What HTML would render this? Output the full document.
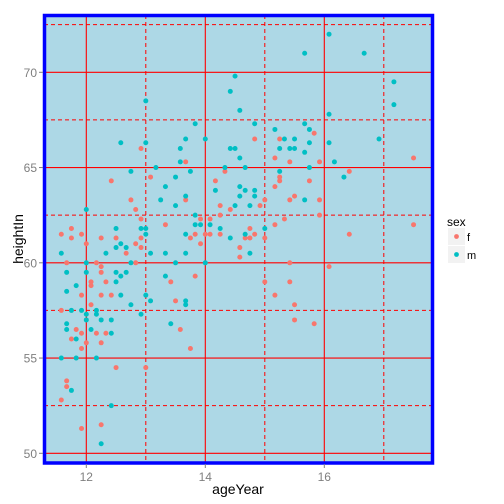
<!DOCTYPE html>
<html><head><meta charset="utf-8"><style>
html,body{margin:0;padding:0;background:#fff;}
svg{display:block;font-family:"Liberation Sans",Arial,sans-serif;}
</style></head><body>
<svg id="chart" width="504" height="504" viewBox="0 0 504 504">
<defs><clipPath id="clip"><rect x="44.5" y="15.5" width="388" height="447.5"/></clipPath></defs>
<rect x="44.5" y="15.5" width="388" height="447.5" fill="#ADD8E6"/>
<g id="grid" clip-path="url(#clip)"></g>
<g id="pts" clip-path="url(#clip)"></g>
<rect x="44.5" y="15.5" width="388" height="447.5" fill="none" stroke="#0000FF" stroke-width="3.5"/>
<g id="axes"></g>
<text x="238" y="494" font-size="14" text-anchor="middle" fill="#000">ageYear</text>
<text transform="translate(23,239) rotate(-90)" font-size="14" text-anchor="middle" fill="#000">heightIn</text>
<g>
<text x="447" y="226" font-size="12" fill="#000">sex</text>
<g>
<rect x="448" y="228" width="17" height="17" fill="#F2F2F2"/>
<circle cx="456.5" cy="236.5" r="2.4" fill="#F8766D"/>
<text x="467" y="241" font-size="11" fill="#000">f</text></g>
<g>
<rect x="448" y="246" width="17" height="17" fill="#F2F2F2"/>
<circle cx="456.5" cy="254.5" r="2.4" fill="#00BFC4"/>
<text x="467" y="259" font-size="11" fill="#000">m</text></g>
</g>
</svg>
<script>
const xTicks=[12,14,16];
const xMinor=[11,13,15,17];
const yTicks=[50,55,60,65,70];
const yMinor=[52.5,57.5,62.5,67.5,72.5];
const female=[[12.42,64.3],[12.75,63.3],[12.83,62.8],[12.92,62.3],[13.33,62.0],[11.75,61.8],[11.58,61.5],[11.92,61.5],[11.75,61.3],[12.25,61.3],[12.5,61.3],[12.92,61.3],[12.0,61.0],[12.83,61.0],[12.92,60.8],[12.67,60.5],[11.67,60.0],[12.17,60.0],[12.83,60.0],[12.25,59.8],[12.25,59.5],[12.08,59.0],[12.33,59.0],[13.42,59.0],[12.08,58.8],[11.92,58.3],[12.25,58.3],[12.42,58.3],[13.5,58.0],[12.08,57.8],[11.58,57.5],[11.83,56.5],[13.58,56.5],[11.92,56.3],[12.17,56.3],[12.33,56.3],[11.75,56.0],[12.0,55.8],[12.25,55.8],[11.92,55.5],[12.5,54.5],[13.0,54.5],[11.67,53.8],[11.67,53.5],[11.58,52.8],[11.92,51.3],[12.25,51.5],[12.92,66.0],[13.08,64.5],[14.83,66.5],[15.25,66.5],[15.83,66.8],[15.92,65.3],[17.5,65.5],[15.17,65.5],[13.67,65.3],[15.42,65.3],[14.33,64.8],[15.25,64.5],[15.25,64.3],[14.17,64.3],[15.75,64.3],[15.17,64.0],[13.67,63.3],[15.0,63.3],[15.5,63.5],[15.42,63.3],[14.25,63.0],[14.92,63.0],[14.42,62.8],[14.25,62.5],[13.92,62.3],[14.08,62.3],[15.33,62.3],[15.17,62.0],[14.75,61.8],[13.83,61.5],[14.0,61.5],[14.08,61.5],[14.25,61.5],[14.83,61.5],[13.75,61.3],[14.67,61.3],[14.75,61.3],[15.0,61.3],[13.92,61.0],[14.58,60.8],[14.58,60.3],[15.42,60.0],[13.83,59.3],[15.0,59.0],[15.42,59.0],[15.17,58.3],[15.5,57.8],[15.5,57.0],[13.75,55.5],[16.42,64.8],[15.92,63.3],[15.92,62.5],[17.5,62.0],[16.42,61.5],[16.08,59.8],[15.83,56.8]];
const male=[[13.33,64.0],[13.25,63.3],[13.5,63.0],[12.0,62.8],[12.5,61.8],[12.92,61.8],[13.0,61.8],[13.0,61.5],[12.58,61.0],[12.5,60.8],[12.67,60.8],[11.58,60.5],[12.33,60.5],[13.08,60.5],[13.33,60.5],[12.0,60.0],[12.75,60.0],[13.5,60.0],[11.67,59.5],[12.0,59.5],[12.5,59.5],[12.67,59.5],[12.58,59.3],[13.33,59.3],[12.5,59.0],[11.67,58.5],[11.83,58.8],[12.58,58.3],[13.0,58.3],[13.08,58.0],[12.75,57.8],[11.75,57.5],[11.92,57.5],[12.17,57.5],[12.0,57.3],[12.17,57.3],[12.92,57.3],[12.0,57.0],[12.25,57.0],[12.42,57.0],[11.67,56.8],[13.42,56.8],[11.67,56.5],[12.08,56.5],[12.42,56.3],[11.83,56.0],[11.58,55.0],[11.83,55.0],[12.17,55.0],[11.75,53.3],[12.42,52.5],[12.25,50.5],[13.0,68.5],[12.58,66.3],[13.0,66.3],[13.58,66.0],[13.58,65.3],[12.75,64.8],[13.17,65.0],[13.5,64.5],[15.67,71.0],[14.5,69.8],[14.42,69.0],[14.58,68.0],[13.83,67.3],[14.83,67.3],[15.67,67.3],[15.17,67.0],[15.75,67.0],[13.67,66.5],[14.0,66.5],[15.33,66.5],[15.5,66.5],[15.75,66.3],[16.08,72.0],[16.67,71.0],[17.17,69.5],[17.17,68.3],[16.08,67.8],[16.08,66.3],[16.92,66.5],[16.17,65.3],[14.42,66.0],[14.5,66.0],[15.25,66.0],[15.42,66.0],[15.5,66.0],[15.67,65.8],[14.58,65.5],[14.33,65.0],[14.67,65.0],[15.75,65.0],[13.75,64.8],[15.25,64.8],[14.58,64.0],[14.17,63.8],[14.67,63.8],[14.83,63.8],[13.67,63.5],[14.58,63.5],[14.83,63.5],[15.67,63.3],[14.5,63.0],[14.75,63.0],[13.83,62.5],[13.83,62.0],[13.92,62.0],[14.08,62.0],[14.25,61.8],[15.0,61.8],[13.67,61.5],[14.67,61.5],[14.42,61.3],[13.67,60.5],[14.75,60.5],[14.0,60.0],[13.67,58.0],[13.67,57.8],[16.33,64.5]];

const NS='http://www.w3.org/2000/svg';
function X(a){return 86.3+(a-12)*59.5;}
function Y(h){return 72.3+(70-h)*19.05;}
function mk(tag,attrs,parent){const e=document.createElementNS(NS,tag);for(const k in attrs)e.setAttribute(k,attrs[k]);parent.appendChild(e);return e;}
const grid=document.getElementById('grid'),pts=document.getElementById('pts'),axes=document.getElementById('axes');
xMinor.forEach(v=>{const l=mk('line',{x1:X(v),x2:X(v),y1:15,y2:464,stroke:'#FF0000','stroke-width':1,'stroke-dasharray':'4,3'},grid);

});
yMinor.forEach(v=>{const l=mk('line',{x1:44,x2:433,y1:Y(v),y2:Y(v),stroke:'#FF0000','stroke-width':1,'stroke-dasharray':'4,3'},grid);

});
xTicks.forEach(v=>{const l=mk('line',{x1:X(v),x2:X(v),y1:15,y2:464,stroke:'#FF0000','stroke-width':1.1},grid);


const t=mk('line',{x1:X(v),x2:X(v),y1:464,y2:468,stroke:'#7F7F7F','stroke-width':1},axes);


const tx=mk('text',{x:X(v),y:481,'font-size':12,'text-anchor':'middle',fill:'#7F7F7F'},axes);tx.textContent=v;

});
yTicks.forEach(v=>{const l=mk('line',{x1:44,x2:433,y1:Y(v),y2:Y(v),stroke:'#FF0000','stroke-width':1.1},grid);


const t=mk('line',{x1:39,x2:43,y1:Y(v),y2:Y(v),stroke:'#7F7F7F','stroke-width':1},axes);


const tx=mk('text',{x:37,y:Y(v)+4.5,'font-size':12,'text-anchor':'end',fill:'#7F7F7F'},axes);tx.textContent=v;

});
female.forEach(p=>{const c=mk('circle',{cx:X(p[0]),cy:Y(p[1]),r:2.5,fill:'#F8766D'},pts);

});
male.forEach(p=>{const c=mk('circle',{cx:X(p[0]),cy:Y(p[1]),r:2.5,fill:'#00BFC4'},pts);

});
</script>
</body></html>
